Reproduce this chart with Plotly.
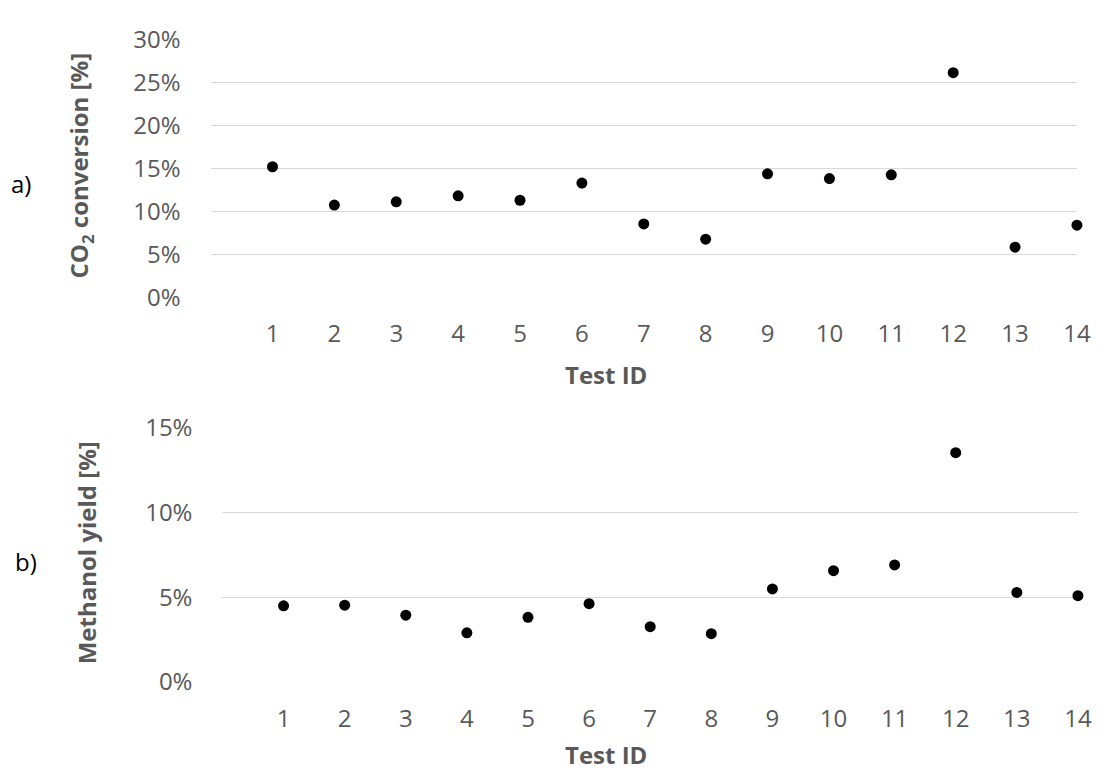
import plotly.graph_objects as go

test_ids = list(range(1, 15))
co2_conversion = [0.1521, 0.1075, 0.1112, 0.1182, 0.1131, 0.1331, 0.0855, 0.0677,
                  0.1439, 0.1383, 0.1427, 0.2617, 0.0584, 0.0841]
methanol_yield = [0.0449, 0.0453, 0.0394, 0.0290, 0.0381, 0.0462, 0.0326, 0.0285,
                  0.0549, 0.0656, 0.0690, 0.1352, 0.0528, 0.0509]
x_ticks = list(range(1, 15))

W, H = 1110, 780
FONT = "Open Sans"
GRAY = "#595959"
GRID = "#d9d9d9"

def px_x(p):
    return p / W

def px_y(p):
    return 1 - p / H

fig = go.Figure()
fig.add_trace(go.Scatter(x=test_ids, y=co2_conversion, mode="markers",
                         marker=dict(color="black", size=11), cliponaxis=False,
                         xaxis="x", yaxis="y", showlegend=False))
fig.add_trace(go.Scatter(x=test_ids, y=methanol_yield, mode="markers",
                         marker=dict(color="black", size=11), cliponaxis=False,
                         xaxis="x2", yaxis="y2", showlegend=False))

tickfont = dict(family=FONT, size=24, color=GRAY)

xcommon = dict(range=[0, 14], tickvals=x_ticks, ticktext=[str(v) for v in x_ticks],
               showgrid=False, zeroline=False, showline=False, ticks="",
               tickfont=tickfont, ticklabelstandoff=20, fixedrange=True)
ycommon = dict(showgrid=True, gridcolor=GRID, gridwidth=1.3, zeroline=False,
               showline=False, ticks="", tickformat=".0%", dtick=0.05,
               tickfont=tickfont, ticklabelstandoff=29, fixedrange=True)

fig.update_layout(
    width=W, height=H,
    margin=dict(l=0, r=0, t=0, b=0),
    paper_bgcolor="white", plot_bgcolor="white",
    font=dict(family=FONT),
    xaxis=dict(domain=[px_x(213.3), px_x(1090.7)], anchor="y", **xcommon),
    yaxis=dict(domain=[px_y(291.7), px_y(22.7)], anchor="x", range=[0, 0.30], **ycommon),
    xaxis2=dict(domain=[px_x(225.3), px_x(1091.7)], anchor="y2", **xcommon),
    yaxis2=dict(domain=[px_y(693.3), px_y(427.7)], anchor="x2", range=[0, 0.15], **ycommon),
)

titlefont = dict(family=FONT, size=24, color=GRAY, weight="bold")
labelfont = dict(family=FONT, size=24, color="black")

annotations = [
    dict(text="CO<sub>2</sub> conversion [%]", x=px_x(82), y=px_y(154), textangle=-90, font=titlefont),
    dict(text="Methanol yield [%]", x=px_x(87), y=px_y(558), textangle=-90, font=titlefont),
    dict(text="Test ID", x=px_x(614), y=px_y(372), font=titlefont),
    dict(text="Test ID", x=px_x(614), y=px_y(769), font=titlefont),
    dict(text="a)", x=px_x(21), y=px_y(173), font=labelfont),
    dict(text="b)", x=px_x(26), y=px_y(568), font=labelfont),
]
for a in annotations:
    fig.add_annotation(xref="paper", yref="paper", showarrow=False,
                       xanchor="center", yanchor="middle", **a)

fig.write_html("out.html")
